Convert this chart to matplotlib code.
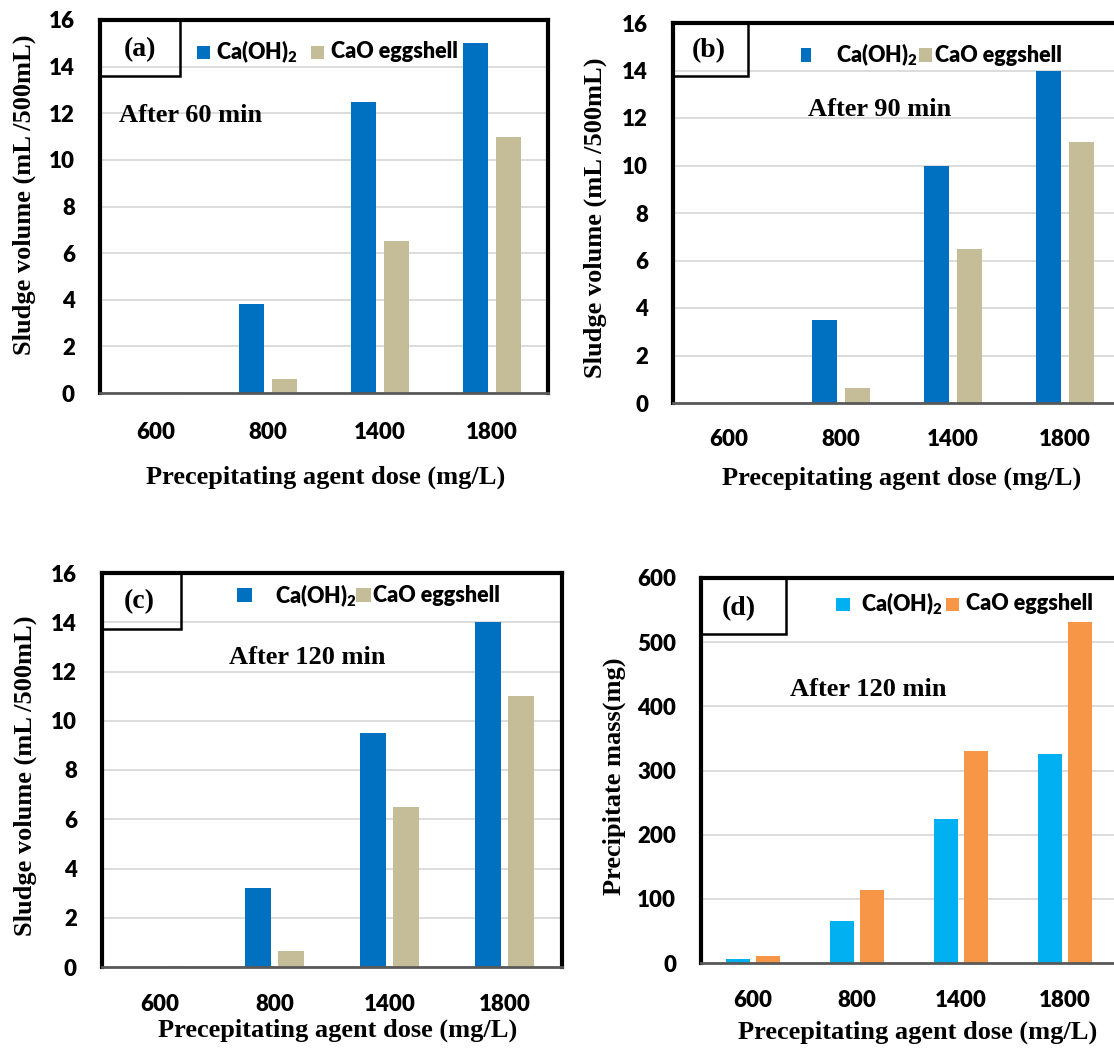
import matplotlib.pyplot as plt
import numpy as np
from matplotlib.patches import Rectangle

plt.rcParams['font.family'] = ['Lato', 'DejaVu Sans']
plt.rcParams['font.weight'] = 'heavy'
plt.rcParams['mathtext.fontset'] = 'custom'
plt.rcParams['mathtext.rm'] = 'Lato:heavy'
plt.rcParams['mathtext.it'] = 'Lato:heavy'
plt.rcParams['mathtext.bf'] = 'Lato:heavy'

doses = ['600', '800', '1400', '1800']
caoh2_60 = [0, 3.8, 12.5, 15]
cao_60 = [0.05, 0.6, 6.5, 11]
caoh2_90 = [0, 3.5, 10, 14]
cao_90 = [0.05, 0.65, 6.5, 11]
caoh2_120 = [0, 3.2, 9.5, 14]
cao_120 = [0.05, 0.65, 6.5, 11]
mass_caoh2 = [7, 66, 224, 325]
mass_cao = [11, 113, 331, 531]

W, H = 1114, 1048
fig = plt.figure(figsize=(W / 100, H / 100), dpi=100)
serif = dict(family='Liberation Serif', weight='bold')


def fx(x):
    return x / W


def fy(y):
    return 1 - y / H


def rect(l, t, r, b, **kw):
    fig.add_artist(Rectangle((fx(l), fy(b)), (r - l) / W, (b - t) / H,
                             transform=fig.transFigure, **kw))


def panel(box, ymax, ystep, s1, s2, c1, c2, xpad,
          tag, tagbox, tagxy, after, afterxy, leg, ylab, ylabxy, xlabxy):
    l, t, r, b = box
    ax = fig.add_axes([fx(l), fy(b), (r - l) / W, (b - t) / H])
    x = np.arange(len(doses))
    ax.bar(x - 0.145, s1, 0.225, color=c1)
    ax.bar(x + 0.145, s2, 0.225, color=c2)
    ax.set_xlim(-0.5, 3.5)
    ax.set_ylim(0, ymax)
    ax.set_yticks(np.arange(0, ymax + 1, ystep))
    ax.set_xticks(x, doses)
    ax.yaxis.grid(True, color='#d9d9d9', lw=1.3)
    ax.set_axisbelow(True)
    ax.tick_params(axis='y', length=0, labelsize=16, pad=18)
    ax.tick_params(axis='x', length=0, labelsize=16, pad=xpad)
    for s in ['left', 'top', 'right']:
        ax.spines[s].set_linewidth(3)
    ax.spines['bottom'].set_linewidth(2)
    ax.spines['bottom'].set_color('#595959')

    rect(*tagbox, fill=False, ec='black', lw=1.8)
    fig.text(fx(tagxy[0]), fy(tagxy[1]), tag, ha='center', va='center',
             fontsize=20, **serif)
    fig.text(fx(afterxy[0]), fy(afterxy[1]), after, ha='center', va='center',
             fontsize=19, **serif)

    (sq1, tx1, sq2, tx2, ly) = leg
    rect(sq1[0], sq1[1], sq1[2], sq1[3], color=c1, lw=0)
    rect(sq2[0], sq2[1], sq2[2], sq2[3], color=c2, lw=0)
    fig.text(fx(tx1), fy(ly), 'Ca(OH)$_2$', ha='left', va='center', fontsize=15.5)
    fig.text(fx(tx2), fy(ly), 'CaO eggshell', ha='left', va='center', fontsize=15.5)

    fig.text(fx(ylabxy[0]), fy(ylabxy[1]), ylab, rotation=90,
             ha='center', va='center', fontsize=19, **serif)
    fig.text(fx(xlabxy[0]), fy(xlabxy[1]), 'Precepitating agent dose (mg/L)',
             ha='center', va='center', fontsize=19, **serif)
    return ax


blue, tan = '#0070c0', '#c4bd97'
sky, orange = '#00b0f0', '#f79646'
vol = 'Sludge volume (mL /500mL)'

panel((100, 20, 548, 393), 16, 2, caoh2_60, cao_60, blue, tan, 21,
      '(a)', (100, 20, 180, 76), (140, 50), 'After 60 min', (191, 115),
      ((197, 46, 210, 59), 216, (311, 46, 324, 59), 331, 52),
      vol, (24, 195), (326, 477))

panel((673, 23, 1121, 403), 16, 2, caoh2_90, cao_90, blue, tan, 18.7,
      '(b)', (673, 23, 748, 76), (709, 51), 'After 90 min', (880, 110),
      ((801, 48, 811, 62), 836, (919, 48, 932, 62), 935, 55),
      vol, (595, 218), (902, 478))

panel((102, 573, 562, 967), 16, 2, caoh2_120, cao_120, blue, tan, 19.4,
      '(c)', (102, 573, 181, 629), (139, 602), 'After 120 min', (307, 658),
      ((237, 588, 252, 602), 275, (356, 588, 371, 602), 373, 596),
      vol, (25, 776), (338, 1030))

panel((701, 578, 1117, 963), 600, 100, mass_caoh2, mass_cao, sky, orange, 19.4,
      '(d)', (701, 578, 786, 634), (739, 609), 'After 120 min', (868, 690),
      ((836, 598, 850, 611), 861, (946, 598, 959, 611), 966, 604),
      'Precipitate mass(mg)', (614, 776), (918, 1032))

fig.savefig('out.png', dpi=100)
